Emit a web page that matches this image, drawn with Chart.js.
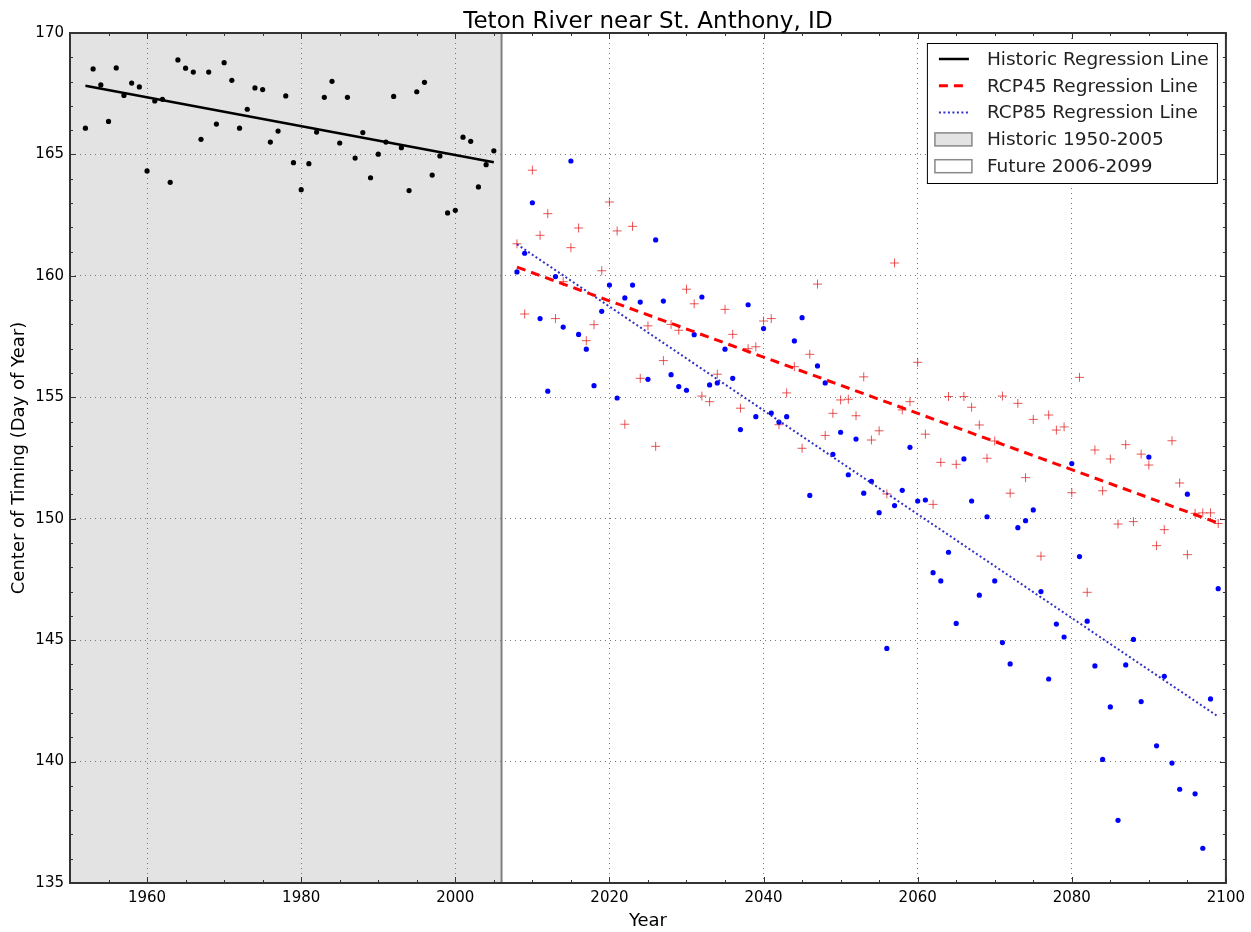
<!DOCTYPE html>
<html>
<head>
<meta charset="utf-8">
<title>Teton River near St. Anthony, ID</title>
<script src="https://cdn.jsdelivr.net/npm/chart.js"></script>
<style>
  html, body { margin: 0; padding: 0; background: #fff; }
  #wrap { position: relative; width: 1251px; height: 932px; }
</style>
</head>
<body>
<div id="wrap"><canvas id="timingChart" width="1251" height="932"></canvas></div>
<script>
const FONT = '"DejaVu Sans", "Liberation Sans", sans-serif';

// axis ticks
const xTicks = [1960, 1980, 2000, 2020, 2040, 2060, 2080, 2100];
const yTicks = [135, 140, 145, 150, 155, 160, 165, 170];
const historicPeriod = [1950, 2006];

// observed centre of timing, 1952-2005
const historicYears = [
  1952, 1953, 1954, 1955, 1956, 1957, 1958, 1959, 1960, 1961, 1962, 1963, 1964, 1965,
  1966, 1967, 1968, 1969, 1970, 1971, 1972, 1973, 1974, 1975, 1976, 1977, 1978, 1979,
  1980, 1981, 1982, 1983, 1984, 1985, 1986, 1987, 1988, 1989, 1990, 1991, 1992, 1993,
  1994, 1995, 1996, 1997, 1998, 1999, 2000, 2001, 2002, 2003, 2004, 2005
];
const historicTiming = [
  166.08, 168.52, 167.86, 166.36, 168.56, 167.43, 167.94, 167.78, 164.32, 167.20, 167.27, 163.85, 168.89, 168.55,
  168.39, 165.62, 168.39, 166.25, 168.78, 168.05, 166.08, 166.86, 167.74, 167.67, 165.51, 165.96, 167.41, 164.66,
  163.55, 164.62, 165.92, 167.35, 168.01, 165.47, 167.35, 164.85, 165.90, 164.04, 165.01, 165.51, 167.39, 165.28,
  163.51, 167.58, 167.97, 164.15, 164.94, 162.59, 162.70, 165.71, 165.54, 163.66, 164.58, 165.15
];

// projected centre of timing, 2008-2099
const futureYears = [
  2008, 2009, 2010, 2011, 2012, 2013, 2014, 2015, 2016, 2017, 2018, 2019, 2020, 2021, 2022, 2023,
  2024, 2025, 2026, 2027, 2028, 2029, 2030, 2031, 2032, 2033, 2034, 2035, 2036, 2037, 2038, 2039,
  2040, 2041, 2042, 2043, 2044, 2045, 2046, 2047, 2048, 2049, 2050, 2051, 2052, 2053, 2054, 2055,
  2056, 2057, 2058, 2059, 2060, 2061, 2062, 2063, 2064, 2065, 2066, 2067, 2068, 2069, 2070, 2071,
  2072, 2073, 2074, 2075, 2076, 2077, 2078, 2079, 2080, 2081, 2082, 2083, 2084, 2085, 2086, 2087,
  2088, 2089, 2090, 2091, 2092, 2093, 2094, 2095, 2096, 2097, 2098, 2099
];
const rcp45Timing = [
  161.32, 158.43, 164.35, 161.67, 162.56, 158.24, 159.76, 161.16, 161.97, 157.33, 157.99, 160.21, 163.04, 161.85, 153.89, 162.04,
  155.78, 157.94, 152.98, 156.51, 158.00, 157.76, 159.45, 158.85, 155.05, 154.82, 155.95, 158.62, 157.59, 154.55, 157.00, 157.08,
  158.14, 158.24, 153.87, 155.18, 156.26, 152.90, 156.77, 159.66, 153.43, 154.34, 154.89, 154.92, 154.24, 155.84, 153.24, 153.62,
  151.02, 160.53, 154.48, 154.82, 156.44, 153.48, 150.59, 152.32, 155.03, 152.24, 155.03, 154.59, 153.86, 152.49, 153.20, 155.05,
  151.05, 154.75, 151.69, 154.09, 148.46, 154.27, 153.65, 153.78, 151.07, 155.82, 146.97, 152.83, 151.15, 152.46, 149.78, 153.05,
  149.88, 152.66, 152.21, 148.89, 149.55, 153.21, 151.47, 148.52, 150.22, 150.24, 150.24, 149.80
];
const rcp85Timing = [
  160.16, 160.93, 163.01, 158.24, 155.25, 159.97, 157.89, 164.73, 157.59, 156.98, 155.48, 158.54, 159.62, 154.97, 159.09, 159.62,
  158.92, 155.74, 161.48, 158.96, 155.93, 155.44, 155.29, 157.58, 159.13, 155.51, 155.59, 156.98, 155.78, 153.67, 158.81, 154.20,
  157.83, 154.35, 153.98, 154.20, 157.32, 158.28, 150.96, 156.29, 155.59, 152.65, 153.56, 151.81, 153.28, 151.05, 151.54, 150.25,
  144.66, 150.54, 151.17, 152.94, 150.73, 150.77, 147.78, 147.44, 148.62, 145.69, 152.46, 150.73, 146.85, 150.08, 147.44, 144.90,
  144.02, 149.63, 149.92, 150.36, 147.00, 143.40, 145.66, 145.13, 152.27, 148.44, 145.78, 143.94, 140.09, 142.25, 137.58, 143.98,
  145.03, 142.47, 152.54, 140.65, 143.51, 139.94, 138.86, 151.01, 138.67, 136.43, 142.58, 147.12
];

// regression line end points
const historicFitYears = [1952, 2005];
const historicFit = [167.83, 164.68];
const futureFitYears = [2008, 2099];
const rcp45Fit = [160.36, 149.82];
const rcp85Fit = [161.30, 141.85];

const legendItems = [
  { label: 'Historic Regression Line', kind: 'line', color: '#000', width: 2.5, dash: [] },
  { label: 'RCP45 Regression Line', kind: 'line', color: '#ff0000', width: 3, dash: [9, 6] },
  { label: 'RCP85 Regression Line', kind: 'line', color: '#3030c8', width: 2, dash: [2, 2.5] },
  { label: 'Historic 1950-2005', kind: 'patch', color: '#e3e3e3' },
  { label: 'Future 2006-2099', kind: 'patch', color: '#ffffff' }
];

const pairs = (xs, ys) => xs.map((x, i) => ({ x: x, y: ys[i] }));

// grey background for the historic period, under the grid
const periodShade = {
  id: 'periodShade',
  beforeDraw(chart) {
    const { ctx, chartArea: a, scales: { x } } = chart;
    const x0 = x.getPixelForValue(historicPeriod[0]);
    const x1 = x.getPixelForValue(historicPeriod[1]);
    ctx.save();
    ctx.fillStyle = '#e3e3e3';
    ctx.fillRect(x0, a.top, x1 - x0, a.height);
    ctx.restore();
  },
  beforeDatasetsDraw(chart) {
    const { ctx, chartArea: a, scales: { x } } = chart;
    const x1 = x.getPixelForValue(historicPeriod[1]);
    ctx.save();
    ctx.strokeStyle = '#808080';
    ctx.lineWidth = 2;
    ctx.beginPath();
    ctx.moveTo(x1, a.top);
    ctx.lineTo(x1, a.bottom);
    ctx.stroke();
    ctx.restore();
  }
};

// frame, inward ticks, title and legend
const decorations = {
  id: 'decorations',
  afterDraw(chart) {
    const { ctx, chartArea: a, scales: { x, y } } = chart;
    ctx.save();

    ctx.strokeStyle = '#333';
    ctx.lineWidth = 1;
    ctx.beginPath();
    for (let v = x.min; v <= x.max; v += 5) {
      const px = Math.round(x.getPixelForValue(v)) + 0.5;
      const len = v % 20 === 0 ? 6 : 3;
      ctx.moveTo(px, a.bottom); ctx.lineTo(px, a.bottom - len);
      ctx.moveTo(px, a.top); ctx.lineTo(px, a.top + len);
    }
    for (let v = y.min; v <= y.max; v += 1) {
      const py = Math.round(y.getPixelForValue(v)) + 0.5;
      const len = v % 5 === 0 ? 6 : 3;
      ctx.moveTo(a.left, py); ctx.lineTo(a.left + len, py);
      ctx.moveTo(a.right, py); ctx.lineTo(a.right - len, py);
    }
    ctx.stroke();

    ctx.lineWidth = 2;
    ctx.strokeRect(a.left, a.top, a.right - a.left, a.bottom - a.top);

    // title
    ctx.fillStyle = '#000';
    ctx.font = '23px ' + FONT;
    ctx.textAlign = 'center';
    ctx.textBaseline = 'alphabetic';
    ctx.fillText('Teton River near St. Anthony, ID', (a.left + a.right) / 2, 28);

    // legend
    const w = 290, h = 140;
    const left = a.right - 299, top = a.top + 10;
    ctx.fillStyle = '#fff';
    ctx.fillRect(left, top, w, h);
    ctx.strokeStyle = '#000';
    ctx.lineWidth = 1;
    ctx.strokeRect(left + 0.5, top + 0.5, w, h);
    ctx.font = '18.5px ' + FONT;
    ctx.textAlign = 'left';
    ctx.textBaseline = 'middle';
    legendItems.forEach((item, i) => {
      const ry = top + 16 + i * 26.8;
      if (item.kind === 'line') {
        ctx.save();
        ctx.strokeStyle = item.color;
        ctx.lineWidth = item.width;
        ctx.setLineDash(item.dash);
        ctx.beginPath();
        ctx.moveTo(left + 12, ry);
        ctx.lineTo(left + 42, ry);
        ctx.stroke();
        ctx.restore();
      } else {
        ctx.fillStyle = item.color;
        ctx.fillRect(left + 8, ry - 6.5, 37, 13);
        ctx.strokeStyle = '#888';
        ctx.lineWidth = 1.5;
        ctx.strokeRect(left + 8, ry - 6.5, 37, 13);
      }
      ctx.fillStyle = '#222';
      ctx.fillText(item.label, left + 60, ry + 1);
    });

    ctx.restore();
  }
};

new Chart(document.getElementById('timingChart'), {
  type: 'scatter',
  data: {
    datasets: [
      {
        label: 'Historic Regression Line',
        data: pairs(historicFitYears, historicFit),
        showLine: true, borderColor: '#000', borderWidth: 2.5, pointRadius: 0
      },
      {
        label: 'RCP45 Regression Line',
        data: pairs(futureFitYears, rcp45Fit),
        showLine: true, borderColor: '#ff0000', borderWidth: 3, borderDash: [9, 6], pointRadius: 0
      },
      {
        label: 'RCP85 Regression Line',
        data: pairs(futureFitYears, rcp85Fit),
        showLine: true, borderColor: '#3030c8', borderWidth: 2, borderDash: [2, 2.5], pointRadius: 0
      },
      {
        label: 'Historic',
        data: pairs(historicYears, historicTiming),
        pointRadius: 2.6, pointBackgroundColor: '#000', pointBorderWidth: 0
      },
      {
        label: 'RCP85',
        data: pairs(futureYears, rcp85Timing),
        pointRadius: 2.6, pointBackgroundColor: '#0000ff', pointBorderWidth: 0
      },
      {
        label: 'RCP45',
        data: pairs(futureYears, rcp45Timing),
        pointStyle: 'cross', pointRadius: 4.5, pointBorderColor: 'rgba(225,30,30,0.75)', pointBorderWidth: 1
      }
    ]
  },
  options: {
    responsive: false,
    animation: false,
    devicePixelRatio: 1,
    events: [],
    layout: { padding: { top: 33, right: 25, bottom: 0, left: 0 } },
    plugins: {
      legend: { display: false },
      tooltip: { enabled: false },
      title: { display: false }
    },
    scales: {
      x: {
        type: 'linear',
        min: 1950,
        max: 2100,
        afterBuildTicks: s => { s.ticks = xTicks.map(v => ({ value: v })); },
        afterFit: s => { s.height = 49; },
        ticks: {
          font: { family: FONT, size: 15 }, color: '#000', padding: 6,
          maxRotation: 0, autoSkip: false, callback: v => String(v)
        },
        grid: { color: '#777', lineWidth: 1, drawTicks: false },
        border: { display: false, dash: [1, 4] },
        title: {
          display: true, text: 'Year', color: '#000',
          font: { family: FONT, size: 18 }, padding: { top: 1, bottom: 0 }
        }
      },
      y: {
        min: 135,
        max: 170,
        afterBuildTicks: s => { s.ticks = yTicks.map(v => ({ value: v })); },
        afterFit: s => { s.width = 70; },
        ticks: { font: { family: FONT, size: 15 }, color: '#000', padding: 6, callback: v => String(v) },
        grid: { color: '#777', lineWidth: 1, drawTicks: false },
        border: { display: false, dash: [1, 4] },
        title: {
          display: true, text: 'Center of Timing (Day of Year)', color: '#000',
          font: { family: FONT, size: 18 }, padding: { top: 9, bottom: 0 }
        }
      }
    }
  },
  plugins: [periodShade, decorations]
});
</script>
</body>
</html>
